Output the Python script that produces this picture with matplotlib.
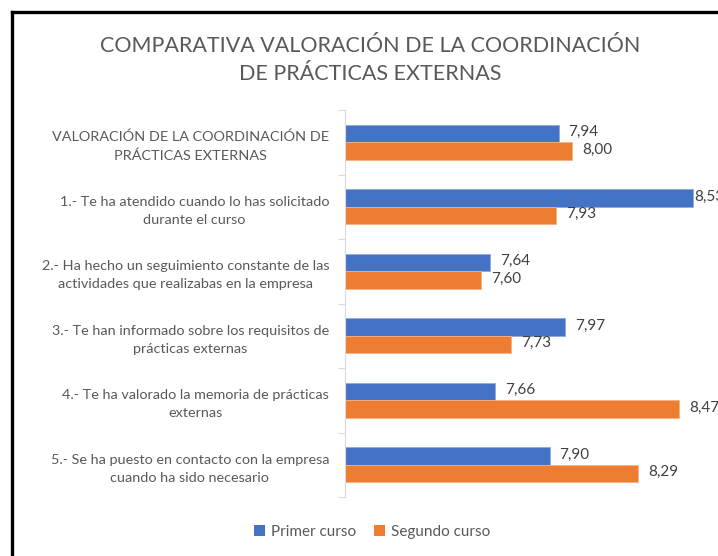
import matplotlib
matplotlib.use("Agg")
import matplotlib.pyplot as plt
from matplotlib.lines import Line2D
from matplotlib.patches import Patch
import numpy as np

categories = [
    "VALORACIÓN DE LA COORDINACIÓN DE\nPRÁCTICAS EXTERNAS",
    "1.- Te ha atendido cuando lo has solicitado\ndurante el curso",
    "2.- Ha hecho un seguimiento constante de las\nactividades que realizabas en la empresa",
    "3.- Te han informado sobre los requisitos de\nprácticas externas",
    "4.- Te ha valorado la memoria de prácticas\nexternas",
    "5.- Se ha puesto en contacto con la empresa\ncuando ha sido necesario",
]
primer = [7.94, 8.53, 7.64, 7.97, 7.66, 7.90]
segundo = [8.00, 7.93, 7.60, 7.73, 8.47, 8.29]
series_names = ["Primer curso", "Segundo curso"]
title = "COMPARATIVA VALORACIÓN DE LA COORDINACIÓN\nDE PRÁCTICAS EXTERNAS"

FONT = ["Lato", "DejaVu Sans"]
plt.rcParams["font.family"] = FONT
GRAY = "#595959"
BLUE = "#4472C4"
ORANGE = "#ED7D31"

W, H = 718, 556
fig = plt.figure(figsize=(W / 100, H / 100), dpi=100)

x0, x1 = 7.0, 8.7
ppu = 227.3
left_px, top_px, bot_px = 345, 110, 497
ax = fig.add_axes([left_px / W, 1 - bot_px / H, (x1 - x0) * ppu / W, (bot_px - top_px) / H])

y = np.arange(len(categories))
h = 0.27
b1 = ax.barh(y - h / 2, np.array(primer) - x0, left=x0, height=h, color=BLUE,
             edgecolor="#8FAADC", linewidth=0.6, label=series_names[0])
b2 = ax.barh(y + h / 2, np.array(segundo) - x0, left=x0, height=h, color=ORANGE,
             edgecolor="#F4B183", linewidth=0.6, label=series_names[1])

for bars, vals in ((b1, primer), (b2, segundo)):
    for rect, v in zip(bars, vals):
        off = 1 if v > 8.5 else 7
        ax.annotate(f"{v:.2f}".replace(".", ","),
                    (v, rect.get_y() + rect.get_height() / 2),
                    xytext=(off, 1), textcoords="offset points",
                    va="center", ha="left", fontsize=11, color="#404040",
                    annotation_clip=False)

ax.set_xlim(x0, x1)
ax.set_ylim(len(categories) - 0.5, -0.5)
ax.set_xticks([])
ax.set_yticks(y)
ax.set_yticklabels(categories, fontsize=10.4, color=GRAY, ha="right", multialignment="center",
                   linespacing=1.6)
ax.tick_params(axis="y", length=0, pad=11.5)
ax.set_yticks(np.arange(-0.5, len(categories), 1.0), minor=True)
ax.tick_params(axis="y", which="minor", length=5, color="#D9D9D9", width=0.8)
for s in ("top", "right", "bottom"):
    ax.spines[s].set_visible(False)
ax.spines["left"].set_color("#D9D9D9")
ax.spines["left"].set_linewidth(0.8)

fig.text(370 / W, 1 - 60 / H, title, ha="center", va="center", fontsize=15.5,
         color=GRAY, linespacing=1.5)

handles = [Patch(facecolor=BLUE), Patch(facecolor=ORANGE)]
fig.legend(handles, series_names, loc="center", bbox_to_anchor=(372 / W, 1 - 532 / H),
           ncol=2, frameon=False, fontsize=11, labelcolor=GRAY,
           handlelength=0.7, handleheight=0.7, handletextpad=0.4, columnspacing=1.2)

fx, fy = 12 / W, 1 - 12 / H
fig.add_artist(Line2D([fx, fx], [0, fy], transform=fig.transFigure, color="black", lw=2.4))
fig.add_artist(Line2D([fx, 1], [fy, fy], transform=fig.transFigure, color="black", lw=2.4))

fig.savefig("out.png", dpi=100)
